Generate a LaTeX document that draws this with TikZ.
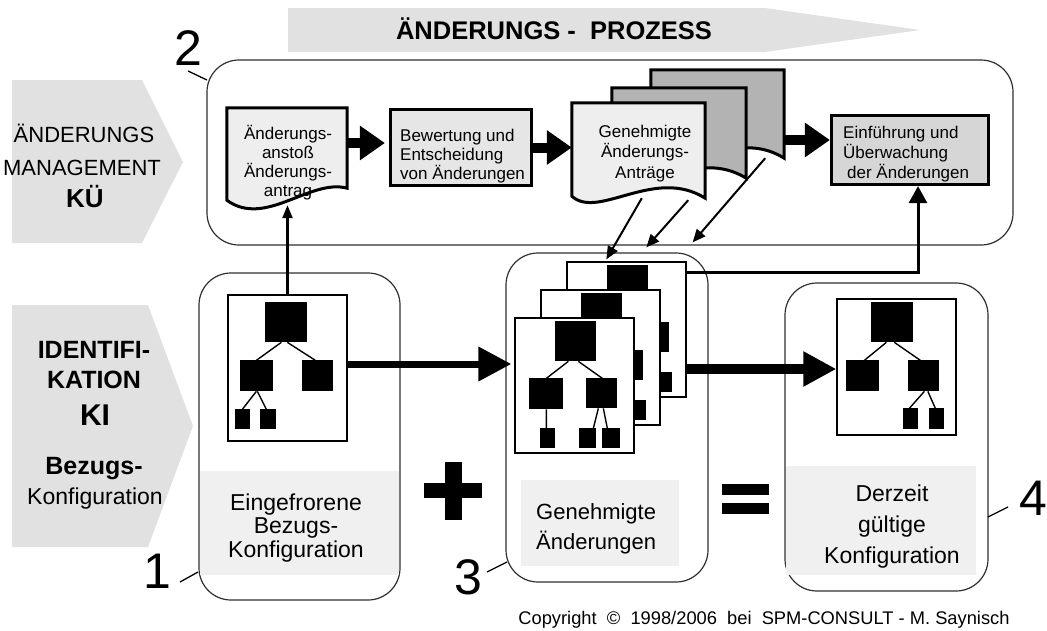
\documentclass[tikz,border=0pt]{standalone}
\usepackage{fontspec}
\setmainfont{Liberation Sans}
\usetikzlibrary{arrows.meta,calc}

\pgfdeclarelayer{back}
\pgfdeclarelayer{mid}
\pgfsetlayers{back,mid,main}

\definecolor{chevgray}{HTML}{E1E1E1}
\definecolor{bandgray}{HTML}{F0F0F0}
\definecolor{docgray}{HTML}{EEEEEE}
\definecolor{evalgray}{HTML}{E6E6E6}
\definecolor{stackgray}{HTML}{B3B3B3}
\definecolor{implgray}{HTML}{D6D6D6}
\definecolor{panelline}{HTML}{303030}

\newcommand\fsz[2]{\fontsize{#1}{#2}\selectfont}

% document symbol with a wavy lower edge (ends on the crest)
\newcommand\docA[2]{\draw[docline,fill=#2] (#1.north west) -- (#1.north east)
  -- ($(#1.south east)+(0,-12)$)
  .. controls ($(#1.south west)!0.69!(#1.south east)+(0,-22)$)
  and ($(#1.south west)!0.32!(#1.south east)+(0,28)$) .. (#1.south west) -- cycle;}
% document symbol whose wave dips again at the right end
\newcommand\docB[2]{\draw[docline,fill=#2] (#1.north west) -- (#1.north east)
  -- ($(#1.south east)+(0,2)$)
  .. controls ($(#1.south west)!0.62!(#1.south east)+(0,-30)$)
  and ($(#1.south west)!0.2!(#1.south east)+(0,24)$) .. (#1.south west) -- cycle;}

\tikzset{
  chev/.style={fill=chevgray},
  panel/.style={draw=panelline,line width=1.2pt,rounded corners=32pt,fill=white,inner sep=0pt},
  band/.style={fill=bandgray},
  procbox/.style={draw=black,line width=3.2pt,inner sep=0pt},
  docbox/.style={inner sep=0pt},
  docline/.style={draw=black,line width=3pt,line join=miter},
  page/.style={draw=black,line width=1.3pt,fill=white,inner sep=0pt},
  twig/.style={line width=1.4pt},
  bigarrow/.style={line width=10pt,-{Triangle[length=25pt,width=33pt]}},
  lowarrow/.style={line width=#1,-{Triangle[length=33pt,width=33pt]}},
  thinarrow/.style={line width=2pt,-{Triangle[length=13pt,width=11pt]}},
  feedarrow/.style={line width=2.5pt,-{Triangle[length=13pt,width=10pt]}},
  linkarrow/.style={line width=3pt,-{Triangle[length=17pt,width=18pt]}},
  tick/.style={line width=1.3pt},
  % multi-line texts are placed by the baseline of their last line
  txt/.style={anchor=base,inner sep=0pt},
  digit/.style={anchor=base,inner sep=0pt,font=\fsz{50}{50}},
  % organisation trees on the configuration sheets
  treeone/.pic={
    \fill (38,8) rectangle (80,48);
    \fill (13,66) rectangle (46,97);
    \fill (75,66) rectangle (106,97);
    \fill (8,115) rectangle (23,135);
    \fill (33,115) rectangle (49,135);
    \draw[twig] (54,48) -- (29,66) (60,48) -- (88,66)
                (29,97) -- (15,115) (30,97) -- (39,115);
  },
  treestack/.pic={
    \fill (41,4) rectangle (82,44);
    \fill (15,61) rectangle (49,92);
    \fill (72,61) rectangle (103,91);
    \fill (26,111) rectangle (41,131);
    \fill (65,111) rectangle (82,131);
    \fill (88,111) rectangle (106,131);
    \draw[twig] (54,44) -- (32,61) (64,44) -- (88,61) (32,92) -- (32,111)
                (84,91) -- (79,111) (89,91) -- (93,111);
  },
  treenow/.pic={
    \fill (35,4) rectangle (77,44);
    \fill (10,62) rectangle (43,93);
    \fill (72,62) rectangle (103,93);
    \fill (67,110) rectangle (82,131);
    \fill (93,110) rectangle (108,131);
    \draw[twig] (50,44) -- (28,62) (58,44) -- (84,62)
                (88,93) -- (73,110) (91.5,93) -- (99,110);
  },
}

\begin{document}
\begin{tikzpicture}[x=1pt,y=-1pt]
\useasboundingbox (0,0) rectangle (1047,630);

% process banner
\fill[chev] (288,8) -- (765,8) -- (920,30) -- (765,52) -- (288,52) -- cycle;
\node[txt,font=\fsz{25.5}{25.5}\bfseries] (banner) at (554,39) {ÄNDERUNGS -\ \ PROZESS};

% side chevrons
\fill[chev] (12,80) -- (142,80) -- (183,162) -- (142,243) -- (12,243) -- cycle;
\node[txt,font=\fsz{22}{22}] (kuA) at (84,142) {ÄNDERUNGS};
\node[txt,font=\fsz{22}{22}] (kuB) at (82,175) {MANAGEMENT};
\node[txt,font=\fsz{26}{26}\bfseries] (kuC) at (85,207) {KÜ};

\fill[chev] (12,305) -- (148,305) -- (193,426) -- (148,547) -- (12,547) -- cycle;
\node[txt,font=\fsz{25}{25}\bfseries] (kiA) at (94,358) {IDENTIFI-};
\node[txt,font=\fsz{25}{25}\bfseries] (kiB) at (94,388) {KATION};
\node[txt,font=\fsz{30}{30}\bfseries] (kiC) at (95,425) {KI};
\node[txt,font=\fsz{25}{25}\bfseries] (kiD) at (94,474) {Bezugs-};
\node[txt,font=\fsz{23}{23}] (kiE) at (95,504) {Konfiguration};

% rounded panels and their caption bands
\begin{pgfonlayer}{back}
\node[panel,minimum width=806pt,minimum height=185pt] (pKU) at (610,152.5) {};
\node[panel,minimum width=201pt,minimum height=327pt] (pOne) at (299.5,436.5) {};
\node[panel,minimum width=202pt,minimum height=329pt] (pThree) at (607,417.5) {};
\node[panel,minimum width=203pt,minimum height=308pt] (pFour) at (886.5,437) {};
\fill[band] (200,471) rectangle (399,575);
\fill[band] (521,480) rectangle (679,566);
\fill[band] (786,466) rectangle (976,575);
\end{pgfonlayer}

% change process: request, evaluation, approved requests, implementation
\node[docbox,minimum width=120pt,minimum height=92pt] (req) at (287,154) {};
\node[docbox,minimum width=133pt,minimum height=86pt] (apprC) at (717.5,113) {};
\node[docbox,minimum width=134pt,minimum height=88pt] (apprB) at (679,132) {};
\node[docbox,minimum width=133pt,minimum height=93pt] (apprA) at (638.5,149.5) {};
\begin{pgfonlayer}{mid}
\docA{req}{docgray}
\docB{apprC}{stackgray}
\docB{apprB}{stackgray}
\docB{apprA}{docgray}
\end{pgfonlayer}
\node[txt,font=\fsz{17}{18.7},align=center] (reqText) at (288,196)
  {Änderungs-\\anstoß\\Änderungs-\\antrag};
\node[txt,font=\fsz{17}{20.5},align=center] (apprText) at (645,178)
  {Genehmigte\\Änderungs-\\Anträge};

\node[procbox,fill=evalgray,minimum width=141pt,minimum height=76pt] (eval) at (461,147.5) {};
\node[txt,font=\fsz{17}{19},align=left,anchor=base west] (evalText) at (400,179)
  {Bewertung und\\Entscheidung\\von Änderungen};

\node[procbox,fill=implgray,minimum width=157pt,minimum height=69pt] (impl) at (910,150) {};
\node[txt,font=\fsz{17}{20},align=left,anchor=base west] (implText) at (843,178)
  {Einführung und\\Überwachung\\\hspace*{4pt}der Änderungen};

% configuration sheets
\node[page,minimum width=119pt,minimum height=146pt] (pgOne) at (287.5,368) {};
\pic at (pgOne.north west) {treeone};
\node[page,minimum width=119pt,minimum height=135pt] (cfgC) at (626.5,329.5) {};
\pic at (cfgC.north west) {treestack};
\node[page,minimum width=119pt,minimum height=135pt] (cfgB) at (600.5,357.5) {};
\pic at (cfgB.north west) {treestack};
\node[page,minimum width=119pt,minimum height=135pt] (cfgA) at (574.5,385.5) {};
\pic at (cfgA.north west) {treestack};
\node[page,minimum width=119pt,minimum height=136pt] (pgFour) at (896.5,367) {};
\pic at (pgFour.north west) {treenow};

% captions
\node[txt,font=\fsz{23}{23.5},align=center] (frozenText) at (296,557)
  {Eingefrorene\\Bezugs-\\Konfiguration};
\node[txt,font=\fsz{22}{30},align=left,anchor=base west] (approvedText) at (536,549)
  {Genehmigte\\Änderungen};
\node[txt,font=\fsz{23}{31},align=center] (currentText) at (892,563)
  {Derzeit\\gültige\\Konfiguration};

% plus and equals signs
\fill (445,462) rectangle (462,520);
\fill (424,483) rectangle (482,498);
\fill (722,484) rectangle (769,495);
\fill (722,503) rectangle (769,514);

% numbered markers
\node[digit] (lblTwo) at (188,65) {2};
\node[digit] (lblOne) at (157,588) {1};
\node[digit] (lblThree) at (468,594) {3};
\node[digit] (lblFour) at (1033,515) {4};
\draw[tick] (188,71) -- (207,80);
\draw[tick] (180,582) -- (198,572);
\draw[tick] (487,572) -- (507,562);
\draw[tick] (988,517) -- (1008,507);

% process flow arrows
\coordinate (a1) at ([xshift=-4pt,yshift=4.5pt]eval.west);
\draw[bigarrow] (a1 -| req.east) -- (a1);
\draw[bigarrow] (eval.east) -- (eval.east -| apprA.west);
\coordinate (a3) at ([yshift=10pt]impl.west);
\draw[bigarrow] (a3 -| apprC.east) -- (a3);

% approved requests feed the change sheets
\coordinate (sA) at ($(apprA.south west)+(70,2)$);
\coordinate (sB) at ($(apprA.south east)+(-17,4)$);
\coordinate (sC) at ($(apprC.south east)+(-19,2)$);
\coordinate (tA) at ($(cfgC.north west)+(40,-2)$);
\coordinate (tB) at ($(cfgC.north west)+(80,-14)$);
\coordinate (tC) at ($(cfgC.north east)+(6,-19)$);
\draw[thinarrow] (sA) -- (tA);
\draw[thinarrow] (sB) -- (tB);
\draw[thinarrow] (sC) -- (tC);

% baseline raises a change request
\coordinate (reqIn) at ($(req.south)+(0,5)$);
\draw[feedarrow] (pgOne.north) -- (pgOne.north |- reqIn);

% changes go to implementation control
\coordinate (lk) at ($(cfgC.north east)+(0,11)$);
\draw[linkarrow] (lk) -| ($(impl.south)+(8,0)$);

% configuration flow
\coordinate (a4) at ([yshift=4pt]pgOne.east);
\draw[lowarrow=7pt,shorten >=3pt] (a4) -- (a4 -| cfgA.west);
\coordinate (a5) at ([yshift=-2pt]pgFour.west);
\draw[lowarrow=9.5pt] (a5 -| cfgC.east) -- (a5);

% copyright line
\node[txt,font=\fsz{18.3}{18.3}] (copy) at (764,624)
  {Copyright\ \ ©\ \ 1998/2006\ \ bei\ \ SPM-CONSULT - M. Saynisch};
\end{tikzpicture}
\end{document}
